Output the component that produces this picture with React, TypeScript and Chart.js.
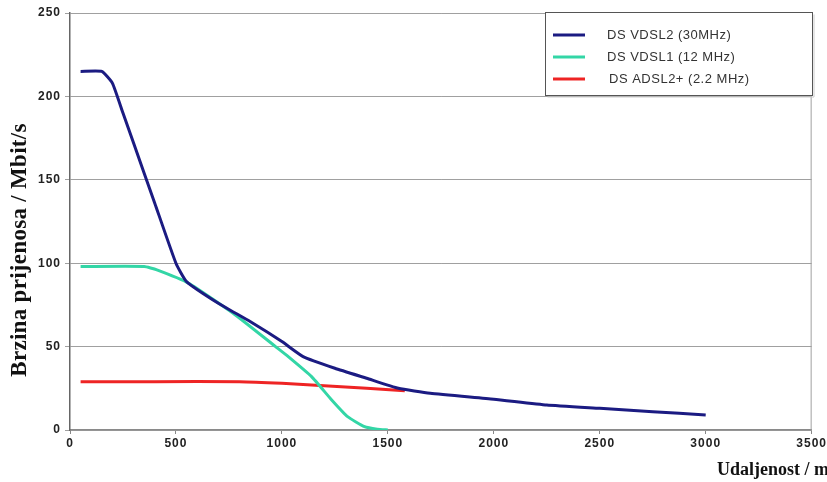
import React, { useEffect, useRef } from "react";
import { Chart, registerables } from "chart.js";

Chart.register(...registerables);

const vdsl2X = [50, 150, 200, 250, 300, 400, 500, 550, 700, 850, 1000, 1100, 1250, 1400, 1550, 1700, 2000, 2250, 2500, 2750, 3000];
const vdsl2Y = [215, 215, 208, 190, 172, 136, 100, 89, 76, 65, 53, 44, 37, 31, 25, 22, 18.5, 15, 13, 11, 9];

const vdsl1X = [50, 350, 410, 560, 770, 970, 1030, 1140, 1235, 1310, 1390, 1450, 1500];
const vdsl1Y = [98, 98, 96, 88, 70, 50, 44, 32, 18, 8, 2, 0.5, 0];

const adslX = [50, 400, 800, 1000, 1200, 1400, 1580];
const adslY = [29, 29, 29, 28, 26.5, 25, 23.5];

const seriesLabels = ["DS VDSL2 (30MHz)", "DS VDSL1 (12 MHz)", "DS ADSL2+ (2.2 MHz)"];
const seriesColors = ["#1b1b82", "#33d6a6", "#ee2424"];

const xTitle = "Udaljenost / m";
const yTitle = "Brzina prijenosa / Mbit/s";

const toPoints = (xs: number[], ys: number[]) => xs.map((x, i) => ({ x, y: ys[i] }));

const extrasPlugin = {
  id: "extras",
  beforeDraw(chart: any) {
    (chart.ctx as any).letterSpacing = "1px";
  },
  afterDraw(chart: any) {
    const { ctx, chartArea } = chart;
    ctx.save();
    // right border of plot
    ctx.strokeStyle = "#a0a0a0";
    ctx.lineWidth = 1;
    ctx.beginPath();
    ctx.moveTo(chartArea.right - 0.5, chartArea.top);
    ctx.lineTo(chartArea.right - 0.5, chartArea.bottom);
    ctx.stroke();

    // axis titles
    ctx.letterSpacing = "0px";
    ctx.font = "bold 18px 'Liberation Serif', 'Times New Roman', serif";
    ctx.fillStyle = "#111111";
    ctx.textAlign = "right";
    ctx.textBaseline = "middle";
    ctx.fillText(xTitle, 829, 470);

    ctx.save();
    ctx.translate(20, 250);
    ctx.rotate(-Math.PI / 2);
    ctx.textAlign = "center";
    ctx.font = "bold 23px 'Liberation Serif', 'Times New Roman', serif";
    ctx.letterSpacing = "0.3px";
    ctx.fillText(yTitle, 0, 0);
    ctx.restore();

    // legend box
    const left = 545.5;
    const top = 12.5;
    const w = 267;
    const h = 83;
    ctx.fillStyle = "#ffffff";
    ctx.fillRect(left, top, w, h);
    ctx.strokeStyle = "#555555";
    ctx.lineWidth = 1;
    ctx.strokeRect(left, top, w, h);
    ctx.strokeStyle = "#cccccc";
    ctx.beginPath();
    ctx.moveTo(left + 2, top + h + 1.5);
    ctx.lineTo(left + w + 1.5, top + h + 1.5);
    ctx.lineTo(left + w + 1.5, top + 2);
    ctx.stroke();

    ctx.font = "13px 'Liberation Sans', Arial, sans-serif";
    ctx.letterSpacing = "0.5px";
    ctx.textBaseline = "middle";
    ctx.textAlign = "left";
    chart.data.datasets.forEach((ds: any, i: number) => {
      const yy = 35 + i * 22;
      ctx.strokeStyle = ds.borderColor;
      ctx.lineWidth = 3;
      ctx.beginPath();
      ctx.moveTo(553, yy);
      ctx.lineTo(585, yy);
      ctx.stroke();
      ctx.fillStyle = "#333333";
      ctx.fillText(ds.label, 607 + (i === 2 ? 2 : 0), yy);
    });
    ctx.restore();
  },
};

export default function App() {
  const ref = useRef<HTMLCanvasElement | null>(null);

  useEffect(() => {
    if (!ref.current) return;
    const data = [toPoints(vdsl2X, vdsl2Y), toPoints(vdsl1X, vdsl1Y), toPoints(adslX, adslY)];
    const chart = new Chart(ref.current, {
      type: "line",
      data: {
        datasets: data.map((pts, i) => ({
          label: seriesLabels[i],
          data: pts,
          borderColor: seriesColors[i],
          backgroundColor: seriesColors[i],
          borderWidth: 3,
          pointRadius: 0,
          tension: 0.15,
          fill: false,
        })),
      },
      options: {
        animation: false,
        responsive: true,
        maintainAspectRatio: false,
        layout: { padding: { top: 13, right: 15, left: 0, bottom: 0 } },
        plugins: {
          legend: { display: false },
          tooltip: { enabled: false },
        },
        scales: {
          x: {
            type: "linear",
            min: 0,
            max: 3500,
            afterFit: (s: any) => {
              s.height = 52;
            },
            ticks: {
              stepSize: 500,
              color: "#222222",
              padding: 2,
              callback: (v: any) => String(v),
              font: { family: "'Liberation Sans', Arial, sans-serif", size: 12, weight: "bold" },
            },
            grid: { display: true, drawOnChartArea: false, tickLength: 4, color: "#888888" },
            border: { color: "#8a8a8a", width: 1.5 },
          },
          y: {
            min: 0,
            max: 250,
            afterFit: (s: any) => {
              s.width = 70;
            },
            ticks: {
              stepSize: 50,
              color: "#222222",
              padding: 4,
              callback: (v: any) => String(v),
              font: { family: "'Liberation Sans', Arial, sans-serif", size: 12, weight: "bold" },
            },
            grid: { color: "#a0a0a0", lineWidth: 1, tickLength: 5 },
            border: { color: "#666666", width: 1.5 },
          },
        },
      },
      plugins: [extrasPlugin],
    });
    return () => chart.destroy();
  }, []);

  return (
    <div style={{ position: "fixed", left: 0, top: 0, width: 827, height: 482, background: "#ffffff" }}>
      <canvas ref={ref} />
    </div>
  );
}
